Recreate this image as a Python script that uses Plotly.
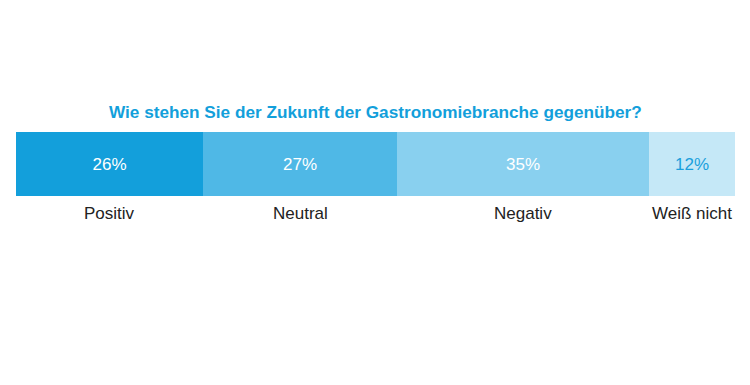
import plotly.graph_objects as go

categories = ["Positiv", "Neutral", "Negativ", "Weiß nicht"]
values = [26, 27, 35, 12]
bar_colors = ["#139fdb", "#4fb8e6", "#89d0ef", "#c5e8f7"]
text_colors = ["#ffffff", "#ffffff", "#ffffff", "#1a9fdc"]
title = "Wie stehen Sie der Zukunft der Gastronomiebranche gegenüber?"

FONT = "Liberation Sans, Arial, sans-serif"

fig = go.Figure()
for cat, v, c, tc in zip(categories, values, bar_colors, text_colors):
    fig.add_trace(go.Bar(
        y=["q"], x=[v], orientation="h", name=cat,
        marker=dict(color=c, line=dict(width=0)),
        text=[f"{v}%"], textposition="inside", insidetextanchor="middle",
        textfont=dict(family=FONT, size=17, color=tc),
        width=1, hoverinfo="skip",
    ))

cum = 0
for cat, v in zip(categories, values):
    fig.add_annotation(
        x=cum + v / 2, y=-0.27, xref="x", yref="paper", yanchor="middle",
        text=cat, showarrow=False,
        font=dict(family=FONT, size=17, color="#222222"),
    )
    cum += v

fig.add_annotation(
    x=0.5, y=1.31, xref="paper", yref="paper", yanchor="middle",
    text=f"<b>{title}</b>", showarrow=False,
    font=dict(family=FONT, size=17.2, color="#139fdb"),
)

fig.update_layout(
    width=742, height=377,
    margin=dict(l=8, r=15, t=124, b=189, pad=0),
    barmode="stack", bargap=0, showlegend=False,
    plot_bgcolor="white", paper_bgcolor="white",
    xaxis=dict(range=[0, 100], visible=False, fixedrange=True),
    yaxis=dict(range=[-0.5, 0.5], visible=False, fixedrange=True),
    uniformtext=dict(mode=False),
)

fig.write_html("out.html")
